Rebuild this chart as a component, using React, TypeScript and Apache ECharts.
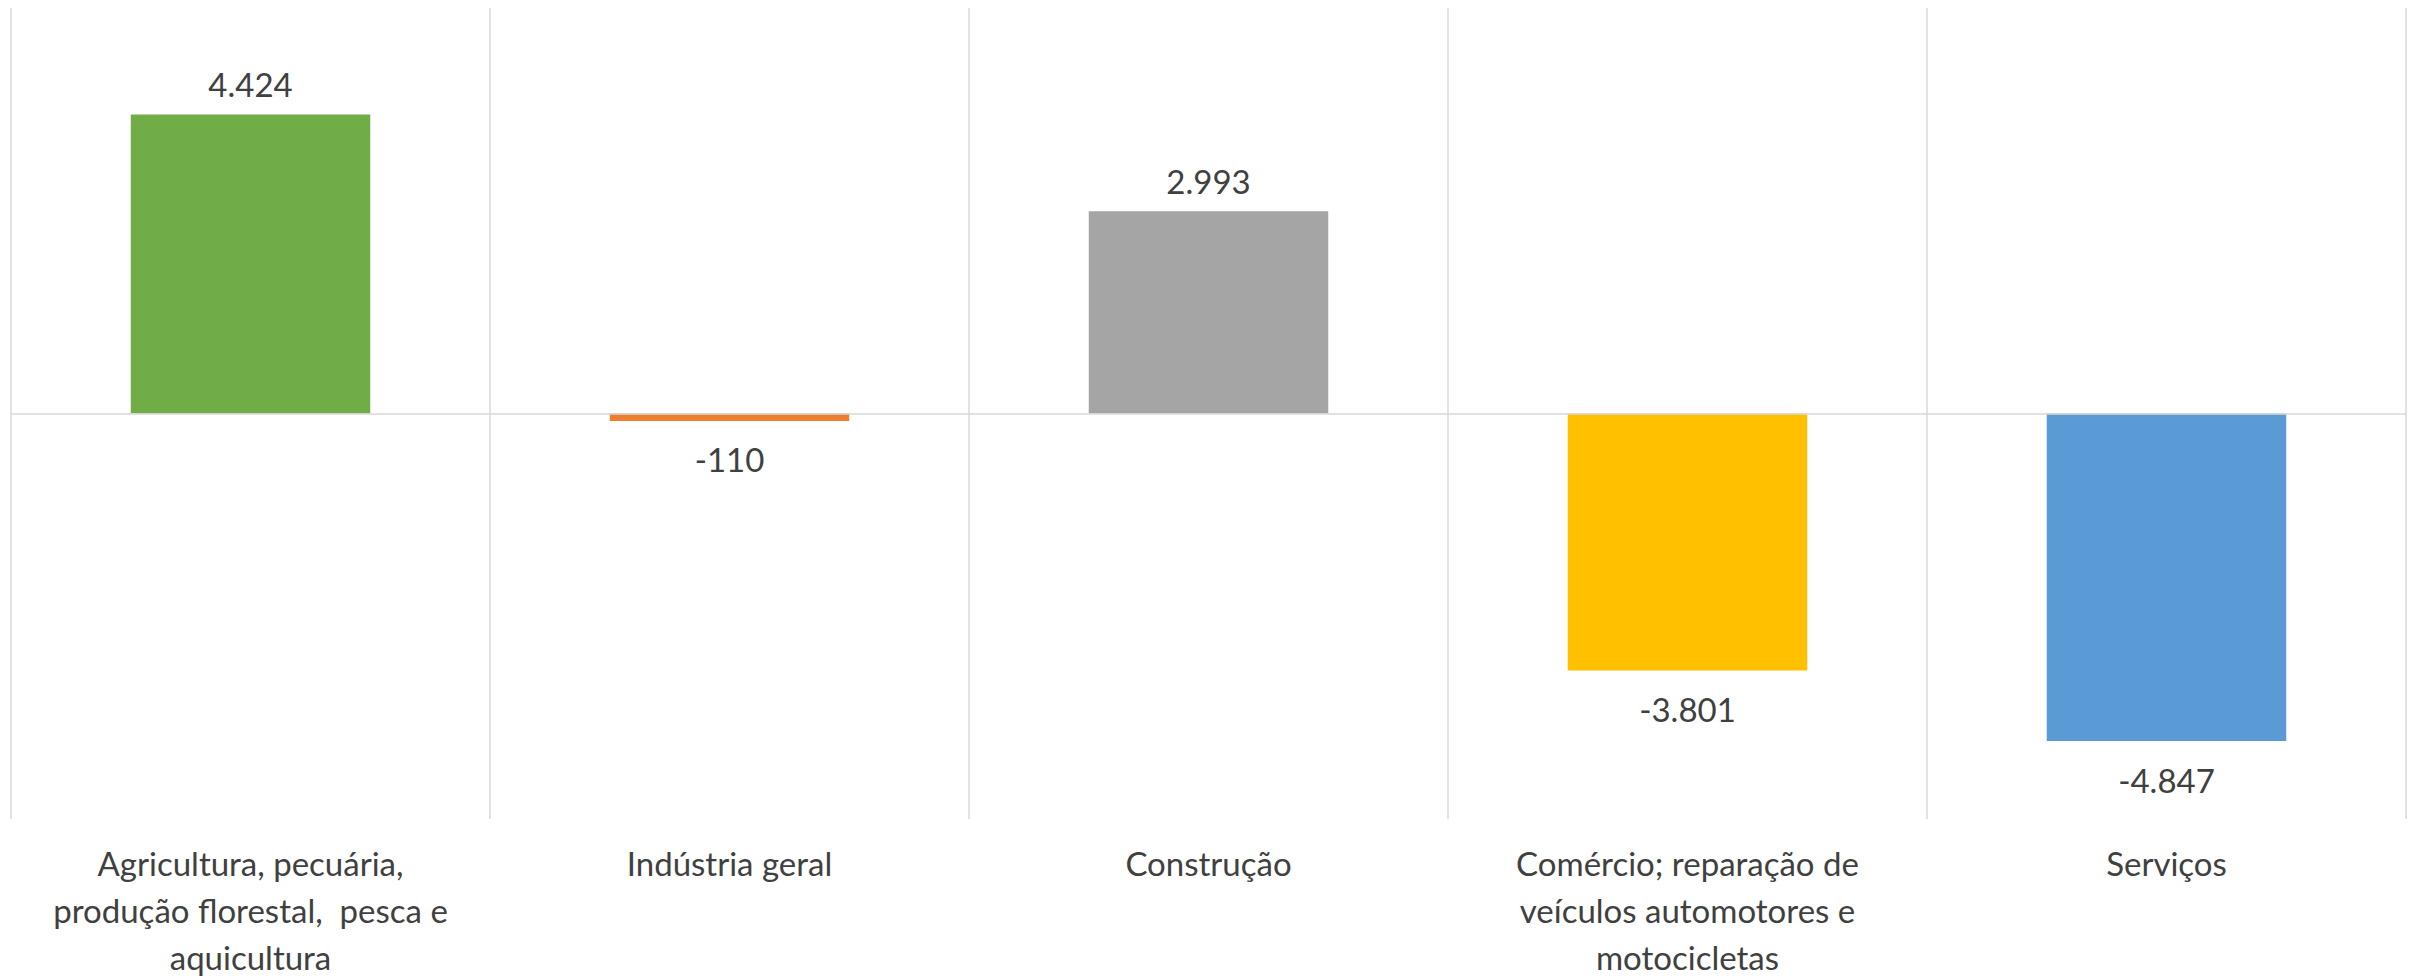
import React, { useEffect, useRef } from "react";
import * as echarts from "echarts";

const categories = [
  "Agricultura, pecuária,\nprodução florestal,  pesca e\naquicultura",
  "Indústria geral",
  "Construção",
  "Comércio; reparação de\nveículos automotores e\nmotocicletas",
  "Serviços",
];
const values = [4424, -110, 2993, -3801, -4847];
const colors = ["#70AD47", "#ED7D31", "#A5A5A5", "#FFC000", "#5B9BD5"];

function fmt(v: number): string {
  const s = Math.abs(v).toString().replace(/\B(?=(\d{3})+(?!\d))/g, ".");
  return (v < 0 ? "-" : "") + s;
}

export default function App() {
  const ref = useRef<HTMLDivElement>(null);
  useEffect(() => {
    document.body.style.margin = "0";
    const chart = echarts.init(ref.current!, null, { renderer: "svg" });
    chart.setOption({
      animation: false,
      backgroundColor: "#ffffff",
      textStyle: { fontFamily: "Lato" },
      grid: { left: 11, right: 5, top: 8, bottom: 157 },
      xAxis: {
        type: "category",
        data: categories,
        axisLine: { show: false, onZero: false },
        axisTick: { show: false },
        splitLine: { show: true, lineStyle: { color: "#d9d9d9", width: 1.5 } },
        axisLabel: {
          interval: 0,
          margin: 20,
          fontSize: 33,
          lineHeight: 47,
          color: "#404040",
          fontFamily: "Lato",
        },
      },
      yAxis: {
        type: "value",
        min: -6000,
        max: 6000,
        show: false,
        splitLine: { show: false },
      },
      series: [
        {
          type: "bar",
          barWidth: "50%",
          data: values.map((v, i) => ({
            value: v,
            itemStyle: { color: colors[i] },
            label: { distance: v < 0 ? 22 : 14 },
          })),
          label: {
            show: true,
            position: "outside",
            distance: 14,
            fontSize: 33,
            color: "#404040",
            fontFamily: "Lato",
            formatter: (p: any) => fmt(p.value),
          },
          markLine: {
            silent: true,
            symbol: ["none", "none"],
            label: { show: false },
            lineStyle: { color: "#d9d9d9", type: "solid", width: 1.5 },
            data: [{ yAxis: 0 }],
          },
        },
      ],
    });
    return () => chart.dispose();
  }, []);
  return <div ref={ref} style={{ width: 2411, height: 980 }} />;
}
